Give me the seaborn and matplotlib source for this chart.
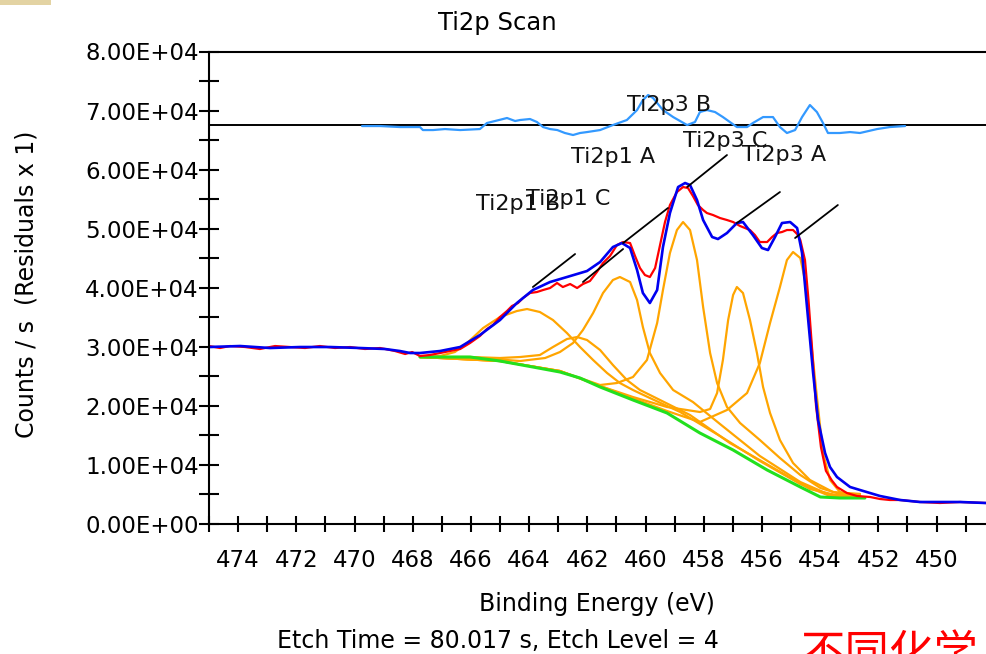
import numpy as np
import pandas as pd
import matplotlib
matplotlib.use("Agg")
import matplotlib.pyplot as plt
from matplotlib.patches import Rectangle
from matplotlib.ticker import MultipleLocator, FuncFormatter
import seaborn as sns

# ---------------- data: Ti2p region, binding energy (eV) vs counts/s ----------------
data_be = [475.00, 474.62, 474.28, 473.76, 473.25, 472.73, 472.22, 471.70, 471.19, 470.67,
           470.15, 469.64, 469.12, 468.61, 468.26, 468.02, 467.75, 467.41, 467.06, 466.72,
           466.37, 466.03, 465.69, 465.45, 465.24, 465.00, 464.76, 464.59, 464.38, 464.21,
           463.97, 463.73, 463.52, 463.28, 463.04, 462.84, 462.59, 462.35, 462.15, 461.91,
           461.67, 461.46, 461.22, 460.98, 460.77, 460.53, 460.36, 460.19, 460.02, 459.85,
           459.67, 459.50, 459.33, 459.16, 458.92, 458.71, 458.54, 458.37, 458.20, 458.02,
           457.89, 457.68, 457.44, 457.20, 456.99, 456.75, 456.58, 456.41, 456.24, 456.07,
           455.82, 455.65, 455.48, 455.31, 455.14, 454.93, 454.79, 454.68, 454.52, 454.40,
           454.28, 454.14, 453.97, 453.80, 453.60, 453.42, 453.08, 452.73, 452.28, 451.94,
           451.60, 451.25, 450.57, 449.88, 449.19, 448.30]
data_counts = [30135, 29797, 30135, 29966, 29628, 30135, 29966, 29797, 30135, 29797,
               29966, 29628, 29797, 29289, 28781, 29120, 28442, 28612, 28950, 29289,
               29628, 30643, 31828, 33014, 33691, 35045, 36061, 36907, 37415, 38262,
               39108, 39278, 39616, 39955, 40801, 40124, 40632, 39955, 40632, 41140,
               42664, 44187, 45372, 47235, 47743, 47573, 45372, 43341, 42156, 41817,
               43341, 47235, 51129, 54007, 56208, 57054, 56885, 55530, 54007, 53160,
               52652, 52314, 51806, 51467, 51129, 50451, 50113, 49774, 48928, 47743,
               47743, 48589, 49266, 49436, 49774, 49774, 49097, 48081, 44695, 38000,
               30000, 20000, 13000, 9000, 7400, 6264, 5248, 4740, 4571, 4233,
               4063, 4063, 3725, 3555, 3725, 3555]

envelope_be = [475.00, 473.93, 472.90, 471.87, 470.84, 469.81, 468.95, 468.44, 468.09, 467.75,
               467.06, 466.37, 465.69, 465.00, 464.42, 463.87, 463.28, 462.70, 462.01, 461.56,
               461.12, 460.81, 460.53, 460.29, 460.09, 459.85, 459.60, 459.40, 459.16, 458.88,
               458.64, 458.47, 458.23, 458.02, 457.71, 457.51, 457.20, 456.86, 456.65, 456.31,
               456.00, 455.79, 455.55, 455.31, 455.03, 454.79, 454.62, 454.45, 454.24, 454.07,
               453.83, 453.66, 453.42, 452.97, 452.63, 451.94, 451.25, 450.57, 449.88, 449.19,
               448.30]
envelope_counts = [29966, 30135, 29797, 29966, 29966, 29797, 29628, 29289, 28950, 28950,
                   29289, 29966, 31998, 34537, 37415, 39616, 40971, 41817, 42833, 44357,
                   46896, 47573, 46727, 43002, 39108, 37415, 39616, 46896, 52652, 57054,
                   57731, 57393, 54853, 51467, 48589, 48251, 49266, 50959, 51129, 48928,
                   46727, 46388, 48589, 50959, 51129, 50113, 45880, 36738, 25564, 17607,
                   12020, 9650, 7957, 6264, 5756, 4740, 4063, 3725, 3725, 3725,
                   3555]

background_be = [467.75, 466.72, 466.03, 465.00, 463.87, 462.94, 462.25, 461.56, 460.43, 459.26,
                 458.13, 456.99, 455.82, 454.68, 453.99, 453.32, 452.46]
background_counts = [28273, 28273, 28273, 27596, 26580, 25734, 24718, 23194, 20993, 18792,
                     15406, 12528, 9142, 6264, 4571, 4402, 4402]

# fitted components (peak + background)
ti2p1_b_be = [467.75, 467.06, 466.55, 466.13, 465.58, 465.00, 464.42, 464.07, 463.63, 463.18,
              462.70, 462.25, 461.80, 461.32, 460.88, 460.43, 459.85, 458.81, 457.44, 456.07,
              454.68, 453.66, 452.63]
ti2p1_b_counts = [28273, 28442, 29120, 30643, 33183, 35045, 36061, 36400, 35892, 34537,
                  32336, 29966, 27765, 25564, 23871, 22686, 21332, 18962, 14898, 10666,
                  6772, 4740, 4740]

ti2p1_c_be = [467.75, 466.03, 465.00, 464.31, 463.63, 463.18, 462.70, 462.35, 462.01, 461.56,
              461.12, 460.64, 460.19, 459.50, 458.47, 457.10, 455.72, 454.35, 453.32, 452.63]
ti2p1_c_counts = [28273, 28273, 28104, 28273, 28612, 29966, 31321, 31659, 31151, 29458,
                  26919, 24379, 22686, 20993, 18454, 13713, 9819, 5926, 4740, 4740]

ti2p1_a_be = [467.75, 465.69, 464.31, 463.45, 462.94, 462.49, 462.15, 461.80, 461.46, 461.12,
              460.88, 460.53, 460.29, 460.09, 459.85, 459.50, 459.05, 458.37, 457.44, 456.07,
              454.68, 453.66, 452.63]
ti2p1_a_counts = [28273, 28104, 27596, 28104, 29120, 30643, 32844, 35722, 39108, 41309,
                  41817, 40971, 37923, 33352, 28950, 25564, 22686, 20654, 16930, 11512,
                  7111, 4910, 4910]

ti2p3_c_be = [467.75, 465.00, 462.94, 461.56, 460.98, 460.43, 459.95, 459.60, 459.40, 459.16,
              458.92, 458.71, 458.47, 458.23, 458.02, 457.78, 457.54, 457.20, 456.75, 456.07,
              455.38, 454.68, 453.99, 453.32, 452.63]
ti2p3_c_counts = [28273, 27596, 25903, 23533, 23871, 24887, 27765, 34029, 39616, 45880,
                  49774, 51129, 49774, 44695, 36738, 28950, 23871, 19808, 17099, 14221,
                  11174, 8296, 6095, 5079, 5079]

ti2p3_b_be = [467.75, 465.00, 462.94, 461.56, 460.43, 459.26, 458.13, 457.78, 457.54, 457.34,
              457.16, 456.99, 456.86, 456.65, 456.41, 456.17, 455.96, 455.72, 455.38, 454.93,
              454.35, 453.56, 452.63]
ti2p3_b_counts = [28273, 27596, 25903, 23363, 21501, 19808, 18962, 19470, 22178, 27765,
                  34537, 38770, 40124, 39108, 34537, 28950, 23194, 18792, 14221, 10327,
                  7449, 5418, 5079]

ti2p3_a_be = [467.75, 465.00, 462.94, 461.56, 459.26, 458.13, 457.20, 456.51, 456.07, 455.72,
              455.38, 455.14, 454.93, 454.68, 454.52, 454.35, 454.11, 453.90, 453.66, 453.32,
              452.97, 452.56]
ti2p3_a_counts = [28273, 27596, 25903, 23363, 19131, 17269, 19300, 22178, 27257, 34029,
                  40124, 44695, 46050, 45034, 41309, 32844, 21501, 12020, 7449, 5418,
                  4910, 4571]

# residuals (x 1), drawn about an offset baseline
residual_offset = 67550
residual_be = [469.74, 469.12, 468.44, 467.75, 467.65, 467.30, 466.89, 466.37, 465.69, 465.45,
               465.17, 464.76, 464.48, 464.31, 463.97, 463.73, 463.52, 463.28, 463.03, 462.77,
               462.49, 462.25, 462.01, 461.56, 461.12, 460.64, 460.29, 460.09, 459.91, 459.74,
               459.40, 459.05, 458.57, 458.30, 458.13, 457.89, 457.61, 457.34, 457.10, 456.86,
               456.51, 456.31, 455.96, 455.62, 455.38, 455.14, 454.86, 454.62, 454.35, 454.11,
               453.90, 453.73, 453.32, 452.97, 452.63, 452.04, 451.60, 451.08]
residual_values = [-170, -170, -340, -340, -850, -850, -680, -850, -680, 340,
                   680, 1190, 680, 850, 1020, 510, -340, -680, -850, -1350,
                   -1690, -1350, -1190, -850, 0, 850, 2540, 4230, 5080, 4570,
                   2540, 1350, 0, 510, 2200, 2540, 2200, 1350, 510, -340,
                   -340, 340, 1350, 1350, -340, -1350, -850, 1350, 3390, 2200,
                   340, -1350, -1350, -1190, -1350, -680, -340, -170]

# peak labels: text position and leader line (start on envelope, end towards label)
peak_names = ["Ti2p3 A", "Ti2p3 B", "Ti2p3 C", "Ti2p1 A", "Ti2p1 C", "Ti2p1 B"]
label_be = [455.24, 459.19, 457.27, 461.12, 462.66, 464.38]
label_counts = [62472, 70937, 64842, 62133, 55023, 54176]
leader_be = [(454.86, 453.39), (456.86, 455.38), (458.57, 457.20),
             (460.77, 459.23), (462.15, 460.77), (463.87, 462.42)]
leader_counts = [(48420, 54007), (50959, 56208), (57054, 62472),
                 (47573, 53499), (40971, 46558), (40124, 45711)]

y_ticks = [0, 10000, 20000, 30000, 40000, 50000, 60000, 70000, 80000]
x_ticks = [474, 472, 470, 468, 466, 464, 462, 460, 458, 456, 454, 452, 450]

# ---------------- styling ----------------
sns.set_style("ticks")
plt.rcParams["font.family"] = ["DejaVu Sans"]
plt.rcParams["axes.linewidth"] = 1.5
plt.rcParams["text.color"] = "black"
plt.rcParams["axes.labelcolor"] = "black"
plt.rcParams["axes.edgecolor"] = "black"
plt.rcParams["xtick.color"] = "black"
plt.rcParams["ytick.color"] = "black"

W, H = 986, 654
fig = plt.figure(figsize=(W / 100, H / 100), dpi=100)
ax = fig.add_axes([209 / W, 1 - 524 / H, (990 - 209) / W, (524 - 51.5) / H])

orange = "#FFA500"
components = [(ti2p1_b_be, ti2p1_b_counts), (ti2p1_c_be, ti2p1_c_counts),
              (ti2p1_a_be, ti2p1_a_counts), (ti2p3_c_be, ti2p3_c_counts),
              (ti2p3_b_be, ti2p3_b_counts), (ti2p3_a_be, ti2p3_a_counts)]
for be, cnt in components:
    sns.lineplot(x=be, y=cnt, ax=ax, color=orange, linewidth=1.6,
                 estimator=None, sort=True)

sns.lineplot(x=background_be, y=background_counts, ax=ax, color="#22E01E",
             linewidth=2.2, estimator=None, sort=True)
sns.lineplot(x=data_be, y=data_counts, ax=ax, color="#FF0000",
             linewidth=1.6, estimator=None, sort=True)
sns.lineplot(x=envelope_be, y=envelope_counts, ax=ax, color="#0000F0",
             linewidth=1.9, estimator=None, sort=True)

res_df = pd.DataFrame({"be": residual_be,
                       "counts": np.array(residual_values) + residual_offset})
ax.axhline(residual_offset, color="black", linewidth=1.4, zorder=1)
sns.lineplot(data=res_df, x="be", y="counts", ax=ax, color="#3399FF",
             linewidth=1.6, estimator=None, sort=True)

for name, tx, ty, lx, ly in zip(peak_names, label_be, label_counts,
                                leader_be, leader_counts):
    ax.plot(lx, ly, color="black", linewidth=1.3)
    ax.text(tx, ty, name, ha="center", va="center", fontsize=16, color="#111111")

# axes
ax.set_xlim(475, 475 - 781 / 29.1)
ax.set_ylim(0, 80000)
ax.set_xticks(x_ticks)
ax.xaxis.set_minor_locator(MultipleLocator(1))
ax.set_yticks(y_ticks)
ax.yaxis.set_minor_locator(MultipleLocator(5000))
ax.yaxis.set_major_formatter(FuncFormatter(lambda v, p: f"{v:.2E}"))
ax.tick_params(axis="both", which="both", direction="inout", width=1.5,
               colors="black", labelcolor="black", labelsize=16.5)
ax.tick_params(axis="y", which="both", length=15, pad=0)
ax.tick_params(axis="x", which="both", length=12, pad=12)
ax.spines["right"].set_visible(False)
ax.set_xlabel("")
ax.set_ylabel("")

# figure texts
fig.text(497 / W, 1 - 30 / H, "Ti2p Scan", ha="center", va="baseline", fontsize=17.5,
         color="black")
fig.text(27 / W, 1 - 284 / H, "Counts / s  (Residuals x 1)", rotation=90,
         ha="center", va="center", fontsize=17, color="black")
fig.text(597 / W, 1 - 611 / H, "Binding Energy (eV)", ha="center", va="baseline",
         fontsize=17, color="black")
fig.text(498 / W, 1 - 648 / H, "Etch Time = 80.017 s, Etch Level = 4", ha="center",
         va="baseline", fontsize=17, color="black")
fig.text(800 / W, 1 - 667 / H, "不同化学", ha="left", va="baseline", fontsize=32,
         color="#FF0000", family=["Noto Sans CJK SC", "DejaVu Sans"])

fig.patches.append(Rectangle((0, 1 - 5 / H), 51 / W, 5 / H, transform=fig.transFigure,
                             facecolor="#E3D3A3", edgecolor="none"))

fig.savefig("out.png", dpi=100)
